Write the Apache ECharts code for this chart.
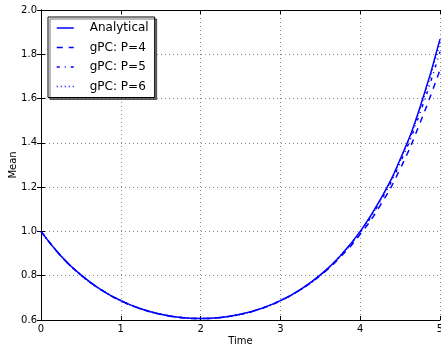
<!DOCTYPE html>
<html>
<head>
<meta charset="utf-8">
<script src="https://cdn.jsdelivr.net/npm/echarts@6/dist/echarts.min.js"></script>
<style>html,body{margin:0;padding:0;background:#fff;}#c{width:441px;height:349px;}</style>
</head>
<body>
<div id="c"></div>
<script>
var times      = [0, 0.25, 0.5, 0.75, 1.0, 1.25, 1.5, 1.75, 2.0, 2.25, 2.5, 2.75, 3.0, 3.25, 3.5, 3.75, 4.0, 4.25, 4.5, 4.75, 5.0];
var analytical = [1.0, 0.8894, 0.8035, 0.7374, 0.6873, 0.6507, 0.6258, 0.6113, 0.6065, 0.6113, 0.6258, 0.6507, 0.6873, 0.7374, 0.8035, 0.8894, 1.0, 1.1420, 1.3248, 1.5610, 1.8682];
var gpcP4      = [1.0, 0.8894, 0.8035, 0.7374, 0.6873, 0.6507, 0.6258, 0.6113, 0.6065, 0.6113, 0.6258, 0.6507, 0.6872, 0.7370, 0.8010, 0.8840, 0.9870, 1.1170, 1.2820, 1.4900, 1.7300];
var gpcP5      = [1.0, 0.8894, 0.8035, 0.7374, 0.6873, 0.6507, 0.6258, 0.6113, 0.6065, 0.6113, 0.6258, 0.6507, 0.6873, 0.7373, 0.8030, 0.8880, 0.9970, 1.1350, 1.3100, 1.5350, 1.8120];
var gpcP6      = [1.0, 0.8894, 0.8035, 0.7374, 0.6873, 0.6507, 0.6258, 0.6113, 0.6065, 0.6113, 0.6258, 0.6507, 0.6873, 0.7374, 0.8035, 0.8890, 0.9990, 1.1400, 1.3210, 1.5530, 1.8550];
var xTicks = [0, 1, 2, 3, 4, 5];
var yTicks = [0.6, 0.8, 1.0, 1.2, 1.4, 1.6, 1.8, 2.0];
var seriesNames = ['Analytical', 'gPC: P=4', 'gPC: P=5', 'gPC: P=6'];

function pairs(ys) { return times.map(function (t, i) { return [t, ys[i]]; }); }

var FONT = 'DejaVu Sans';
var chart = echarts.init(document.getElementById('c'), null, {renderer: 'canvas'});
var gridLine = {show: true, lineStyle: {color: '#888', width: 1, type: [1, 3]}};
var axLine = {show: true, lineStyle: {color: '#000', width: 1}};
var tick = {show: true, inside: true, length: 4, lineStyle: {color: '#000', width: 1}};

var lineTypes = ['solid', [6, 6], [3, 5, 1, 5], [1, 3]];
var datas = [analytical, gpcP4, gpcP5, gpcP6];

chart.setOption({
  animation: false,
  backgroundColor: '#fff',
  grid: {left: 41, right: 1, top: 10, bottom: 29, containLabel: false, outerBoundsMode: 'none'},
  xAxis: [{
    type: 'value', min: xTicks[0], max: xTicks[xTicks.length - 1], interval: 1,
    name: 'Time', nameLocation: 'middle', nameGap: 16, nameMoveOverlap: false,
    nameTextStyle: {fontFamily: FONT, fontSize: 10, color: '#000'},
    axisLine: axLine, axisTick: tick, splitLine: gridLine,
    axisLabel: {fontFamily: FONT, fontSize: 10, color: '#000', margin: 4, showMaxLabel: true}
  }, {
    type: 'value', position: 'top', min: xTicks[0], max: xTicks[xTicks.length - 1], interval: 1,
    axisLine: axLine, axisTick: tick, splitLine: {show: false}, axisLabel: {show: false}
  }],
  yAxis: [{
    type: 'value', min: yTicks[0], max: yTicks[yTicks.length - 1], interval: 0.2,
    name: 'Mean', nameLocation: 'middle', nameGap: 23, nameMoveOverlap: false,
    nameTextStyle: {fontFamily: FONT, fontSize: 10, color: '#000'},
    axisLine: axLine, axisTick: tick, splitLine: gridLine,
    axisLabel: {fontFamily: FONT, fontSize: 10, color: '#000', margin: 4,
      formatter: function (v) { return v.toFixed(1); }}
  }, {
    type: 'value', position: 'right', min: yTicks[0], max: yTicks[yTicks.length - 1], interval: 0.2,
    axisLine: axLine, axisTick: tick, splitLine: {show: false}, axisLabel: {show: false}
  }],
  legend: {
    orient: 'vertical', left: 48, top: 17,
    data: seriesNames,
    backgroundColor: '#fff', borderColor: '#000', borderWidth: 1, borderRadius: 0,
    shadowColor: 'rgba(0,0,0,0.55)', shadowBlur: 0, shadowOffsetX: 2, shadowOffsetY: 2,
    padding: [5, 6, 5, 8],
    itemWidth: 17, itemHeight: 12, itemGap: 7.5,
    itemStyle: {opacity: 0, borderWidth: 0},
    lineStyle: {width: 1.5},
    textStyle: {fontFamily: FONT, fontSize: 12, color: '#000', padding: [0, 0, 0, 11]}
  },
  series: datas.map(function (d, i) {
    return {
      name: seriesNames[i], type: 'line', data: pairs(d),
      xAxisIndex: 0, yAxisIndex: 0,
      showSymbol: false, symbol: 'none', smooth: true, clip: true,
      lineStyle: {color: '#0000ff', width: 1.5, type: lineTypes[i]},
      itemStyle: {color: '#0000ff'}
    };
  })
});
</script>
</body>
</html>
